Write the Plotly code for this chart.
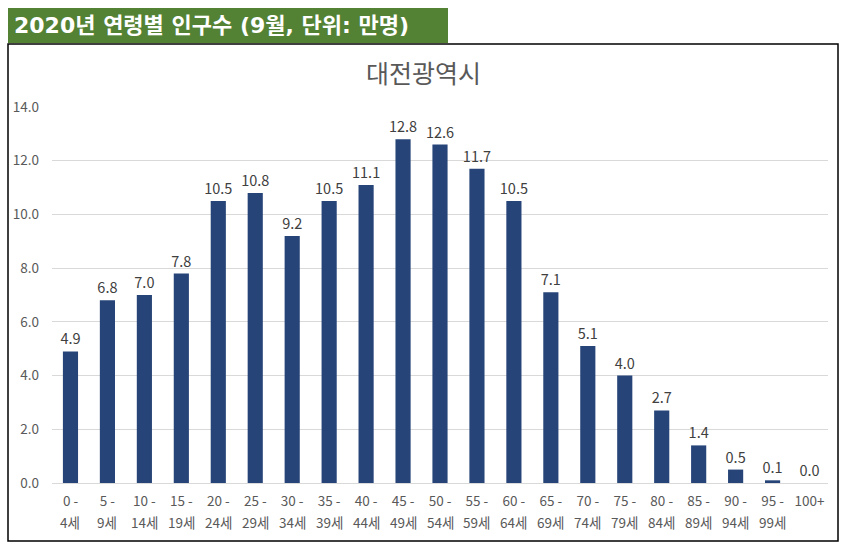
import plotly.graph_objects as go

age_start = ["0 -", "5 -", "10 -", "15 -", "20 -", "25 -", "30 -", "35 -", "40 -", "45 -",
             "50 -", "55 -", "60 -", "65 -", "70 -", "75 -", "80 -", "85 -", "90 -", "95 -", "100+"]
age_end = ["4세", "9세", "14세", "19세", "24세", "29세", "34세", "39세", "44세", "49세",
           "54세", "59세", "64세", "69세", "74세", "79세", "84세", "89세", "94세", "99세", ""]
values = [4.9, 6.8, 7.0, 7.8, 10.5, 10.8, 9.2, 10.5, 11.1, 12.8, 12.6, 11.7, 10.5, 7.1, 5.1,
          4.0, 2.7, 1.4, 0.5, 0.1, 0.0]
value_labels = [f"{v:.1f}" for v in values]
y_ticks = [0, 2, 4, 6, 8, 10, 12, 14]
y_ticktext = [f"{t:.1f}" for t in y_ticks]

banner_title = "2020년 연령별 인구수 (9월, 단위: 만명)"
chart_title = "대전광역시"

W, H = 849, 550
L, R, T, B = 52, 21, 107, 67
pw, ph = W - L - R, H - T - B

def px(x):
    return (x - L) / pw

def py(y):
    return (H - B - y) / ph

FONT = "Noto Sans CJK KR"
TICK_COLOR = "#595959"

fig = go.Figure(go.Bar(
    x=age_start, y=values,
    marker=dict(color="#264478", line=dict(width=0)),
    text=value_labels, textposition="outside", constraintext="none",
    textfont=dict(family=FONT, size=14.5, color="#404040"),
    cliponaxis=False,
    width=0.41,
))

annotations = [
    dict(text=f"<b>{banner_title}</b>", xref="paper", yref="paper",
         x=px(12), y=py(26), xanchor="left", yanchor="middle", showarrow=False,
         font=dict(family="DejaVu Sans, " + FONT, size=22, color="white")),
    dict(text=chart_title, xref="paper", yref="paper",
         x=px(423), y=py(72), xanchor="center", yanchor="middle", showarrow=False,
         font=dict(family=FONT, size=25, color=TICK_COLOR)),
]
for cat, end in zip(age_start, age_end):
    if end:
        annotations.append(dict(text=end, x=cat, xref="x", yref="paper", y=py(522),
                                xanchor="center", yanchor="middle", showarrow=False,
                                font=dict(family=FONT, size=13.5, color=TICK_COLOR)))

fig.update_layout(
    width=W, height=H,
    margin=dict(l=L, r=R, t=T, b=B, pad=0),
    paper_bgcolor="white", plot_bgcolor="white",
    showlegend=False,
    font=dict(family=FONT, color=TICK_COLOR),
    xaxis=dict(showgrid=False, showline=False, ticks="", tickangle=0,
               ticklabelstandoff=8,
               tickfont=dict(family=FONT, size=13.5, color=TICK_COLOR)),
    yaxis=dict(range=[0, 14], tickvals=y_ticks, ticktext=y_ticktext,
               showgrid=True, gridcolor="#D9D9D9", gridwidth=1,
               zeroline=True, zerolinecolor="#D9D9D9", zerolinewidth=1,
               showline=False, ticks="", ticklabelstandoff=12,
               tickfont=dict(family=FONT, size=13.5, color=TICK_COLOR)),
    shapes=[
        dict(type="rect", xref="paper", yref="paper",
             x0=px(8), x1=px(838), y0=py(541), y1=py(44),
             line=dict(color="black", width=1.5), fillcolor="rgba(0,0,0,0)", layer="below"),
        dict(type="rect", xref="paper", yref="paper",
             x0=px(8), x1=px(448), y0=py(43), y1=py(8),
             line=dict(width=0), fillcolor="#548235", layer="below"),
    ],
    annotations=annotations,
)

fig.write_html("out.html", config={"displayModeBar": False},
               post_script="document.body.style.margin='0';")
